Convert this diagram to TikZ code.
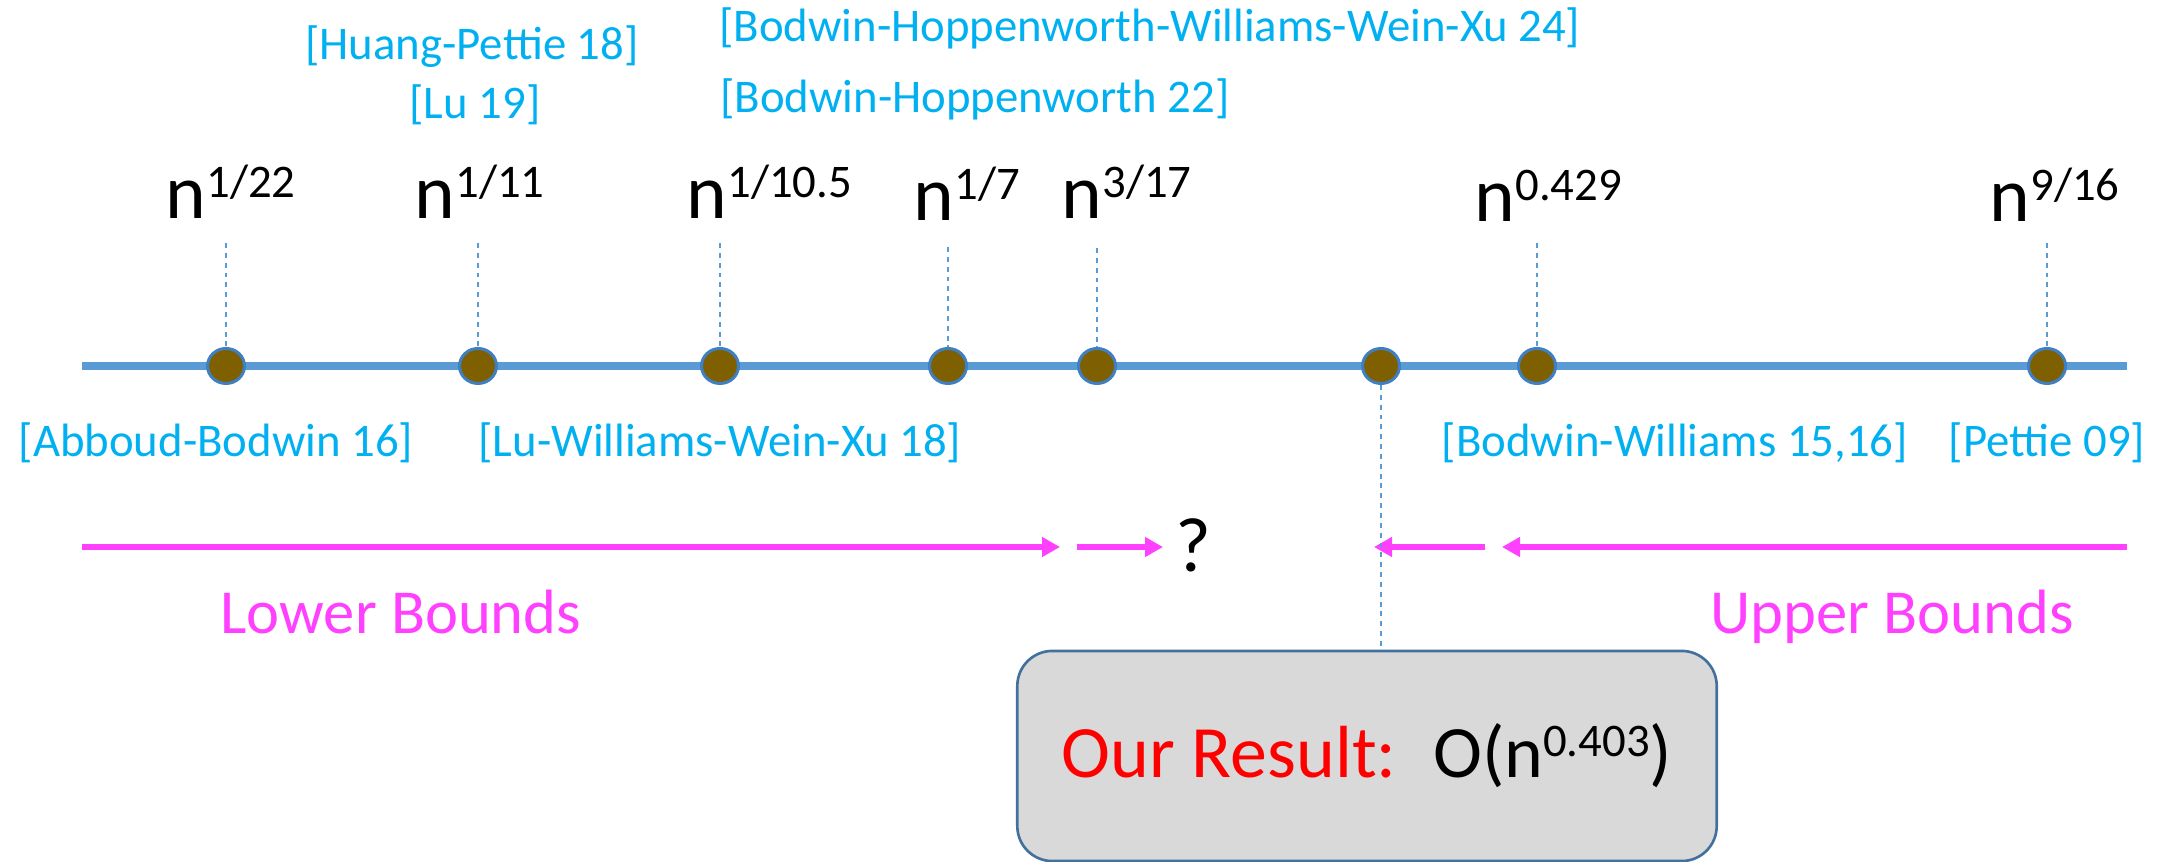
\documentclass[tikz,border=0pt]{standalone}
\usepackage{fontspec}
\setmainfont{Carlito}
\usetikzlibrary{arrows.meta,shapes.geometric}
\definecolor{citeblue}{HTML}{00B0F0}
\definecolor{axisblue}{HTML}{5B9BD5}
\definecolor{dotfill}{HTML}{7F6000}
\definecolor{dotedge}{HTML}{3F7FC4}
\definecolor{boundpink}{HTML}{FF40FF}
\definecolor{boxfill}{HTML}{D9D9D9}
\definecolor{boxedge}{HTML}{41719C}
\newcommand\supx[1]{\raisebox{6pt}{\fontsize{13.3}{15}\selectfont #1}}
\begin{document}
\begin{tikzpicture}[x=0.01cm,y=-0.01cm,
  axisline/.style={draw=axisblue,line width=2.2pt},
  dot/.style={ellipse,fill=dotfill,draw=dotedge,line width=0.85pt,minimum width=0.37cm,minimum height=0.35cm,inner sep=0},
  guide/.style={draw=axisblue,line width=0.4pt,dash pattern=on 1.4pt off 1.4pt},
  cite/.style={text=citeblue,font=\fontsize{13.3}{16}\selectfont,inner sep=0,anchor=base},
  expo/.style={font=\fontsize{22}{26}\selectfont,inner sep=0,anchor=base west},
  bound/.style={draw=boundpink,line width=1.7pt,-{Triangle[length=0.18cm,width=0.19cm]}},
  boundlabel/.style={text=boundpink,font=\fontsize{17.8}{21}\selectfont,inner sep=0,anchor=base},
  resultbox/.style={draw=boxedge,fill=boxfill,line width=0.75pt,rounded corners=0.35cm,minimum width=6.99cm,minimum height=2.1cm,inner sep=0,font=\fontsize{21}{25}\selectfont}
]
\useasboundingbox (0,0) rectangle (2161,862);

% axis
\coordinate (axL) at (82,366);
\coordinate (axR) at (2127,366);
\draw[axisline] (axL) -- (axR);

% dots
\node[dot] (d1) at (226,366) {};
\node[dot] (d2) at (478,366) {};
\node[dot] (d3) at (720,366) {};
\node[dot] (d4) at (948,366) {};
\node[dot] (d5) at (1097,366) {};
\node[dot] (d6) at (1381,366) {};
\node[dot] (d7) at (1537,366) {};
\node[dot] (d8) at (2047,366) {};

% guides
\coordinate (t1) at (226,243);
\coordinate (t2) at (478,243);
\coordinate (t3) at (720,243);
\coordinate (t4) at (948,247);
\coordinate (t5) at (1097,248);
\coordinate (t7) at (1537,243);
\coordinate (t8) at (2047,243);
\foreach \i in {1,2,3,4,5,7,8} \draw[guide] (t\i) -- (d\i.north);

% exponent labels
\node[expo] (e1) at (165,219) {n\supx{1/22}};
\node[expo] (e2) at (414,219) {n\supx{1/11}};
\node[expo] (e3) at (686,219) {n\supx{1/10.5}};
\node[expo] (e4) at (913,221) {n\supx{1/7}};
\node[expo] (e5) at (1061,219) {n\supx{3/17}};
\node[expo] (e7) at (1474,222) {n\supx{0.429}};
\node[expo] (e8) at (1989,222) {n\supx{9/16}};

% citations above
\node[cite] (c1) at (472,60) {[Huang-Pettie 18]};
\node[cite] (c2) at (475,119) {[Lu 19]};
\node[cite] (c3) at (1150,42) {[Bodwin-Hoppenworth-Williams-Wein-Xu 24]};
\node[cite] (c4) at (975,113) {[Bodwin-Hoppenworth 22]};

% citations below
\node[cite] (c5) at (216,457) {[Abboud-Bodwin 16]};
\node[cite] (c6) at (720,457) {[Lu-Williams-Wein-Xu 18]};
\node[cite] (c7) at (1675,457) {[Bodwin-Williams 15,16]};
\node[cite] (c8) at (2047,457) {[Pettie 09]};

% bounds arrows
\coordinate (lb0) at (82,547);
\coordinate (lb1) at (1060,547);
\coordinate (lb2) at (1077,547);
\coordinate (lb3) at (1163,547);
\draw[bound] (lb0) -- (lb1);
\draw[bound] (lb2) -- (lb3);
\node[font=\fontsize{22}{26}\selectfont,inner sep=0,anchor=base] (q) at (1193,572) {?};

\coordinate (ub0) at (2127,547);
\coordinate (ub1) at (1502,547);
\coordinate (ub2) at (1485,547);
\coordinate (ub3) at (1374,547);
\draw[bound] (ub0) -- (ub1);
\draw[bound] (ub2) -- (ub3);

\node[boundlabel] (lbl) at (401,634) {Lower Bounds};
\node[boundlabel] (ubl) at (1892,634) {Upper Bounds};

% result box
\node[resultbox] (res) at (1367,756) {{\color{red}Our Result:}\hspace{10.4pt}O(n\supx{0.403})\hspace{4pt}};
\draw[guide] (d6.south) -- (d6 |- res.north);
\end{tikzpicture}
\end{document}
